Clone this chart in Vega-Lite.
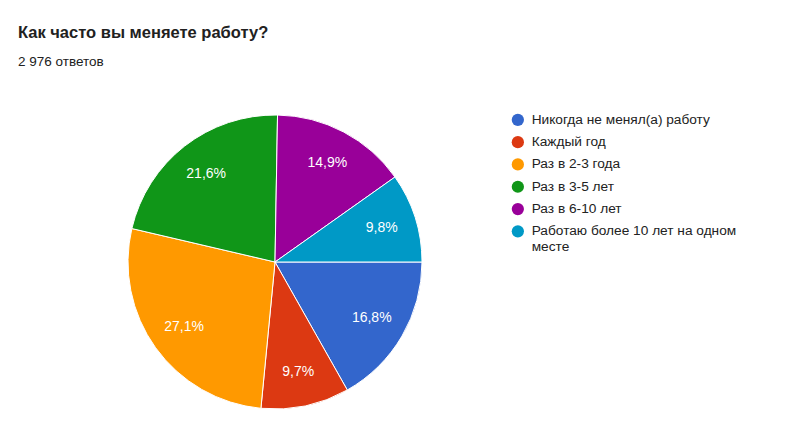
{
  "$schema": "https://vega.github.io/schema/vega-lite/v6.json",
  "width": 514,
  "height": 294,
  "padding": {"left": 18, "top": 25, "right": 10, "bottom": 10},
  "background": "white",
  "config": {
    "view": {"stroke": null},
    "font": "Liberation Sans",
    "locale": {"number": {"decimal": ",", "thousands": " ", "grouping": [3], "currency": ["", ""]}}
  },
  "title": {
    "text": "Как часто вы меняете работу?",
    "subtitle": "2 976 ответов",
    "anchor": "start",
    "frame": "group",
    "font": "Liberation Sans",
    "fontSize": 16.5,
    "fontWeight": "bold",
    "color": "#212121",
    "subtitleFont": "Liberation Sans",
    "subtitleFontSize": 13.5,
    "subtitleColor": "#212121",
    "subtitlePadding": 13,
    "offset": 45
  },
  "data": {
    "values": [
      {"answer": "Никогда не менял(а) работу", "share": 0.168, "order": 1},
      {"answer": "Каждый год", "share": 0.097, "order": 2},
      {"answer": "Раз в 2-3 года", "share": 0.271, "order": 3},
      {"answer": "Раз в 3-5 лет", "share": 0.216, "order": 4},
      {"answer": "Раз в 6-10 лет", "share": 0.149, "order": 5},
      {"answer": "Работаю более 10 лет на одном месте", "share": 0.098, "order": 6}
    ]
  },
  "encoding": {
    "theta": {"field": "share", "type": "quantitative", "stack": true, "scale": {"range": [1.5708, 7.854]}},
    "order": {"field": "order", "type": "quantitative"}
  },
  "layer": [
    {
      "mark": {"type": "arc", "outerRadius": 147, "stroke": "white", "strokeWidth": 1},
      "encoding": {
        "color": {
          "field": "answer",
          "type": "nominal",
          "scale": {
            "domain": ["Никогда не менял(а) работу", "Каждый год", "Раз в 2-3 года", "Раз в 3-5 лет", "Раз в 6-10 лет", "Работаю более 10 лет на одном месте"],
            "range": ["#3366cc", "#dc3912", "#ff9900", "#109618", "#990099", "#0099c6"]
          },
          "legend": {
            "title": null,
            "orient": "none",
            "legendX": 493,
            "legendY": -2,
            "symbolType": "circle",
            "symbolSize": 150,
            "symbolStrokeWidth": 0,
            "symbolOpacity": 1,
            "labelFont": "Liberation Sans",
            "labelFontSize": 13.7,
            "labelColor": "#222222",
            "labelOffset": 7,
            "labelLimit": 300,
            "rowPadding": 7.3,
            "labelExpr": "datum.label == 'Работаю более 10 лет на одном месте' ? ['Работаю более 10 лет на одном', 'месте'] : datum.label",
            "labelBaseline": "middle",
            "encode": {"labels": {"update": {"lineHeight": {"value": 17}, "dy": {"signal": "datum.value == 'Работаю более 10 лет на одном месте' ? 8.5 : 0"}}}}
          }
        }
      }
    },
    {
      "mark": {"type": "text", "radius": 112, "color": "white", "fontSize": 14, "font": "Liberation Sans"},
      "encoding": {"text": {"field": "share", "type": "quantitative", "format": ".1%"}}
    }
  ]
}
